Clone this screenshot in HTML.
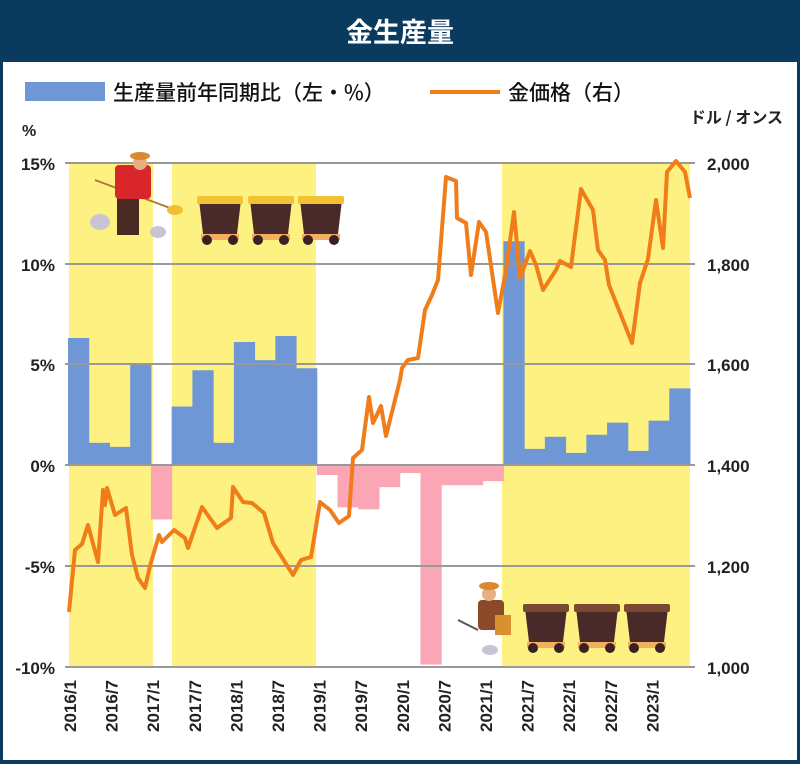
<!DOCTYPE html>
<html><head><meta charset="utf-8"><style>
body{margin:0;width:800px;height:764px;overflow:hidden;background:#fff;font-family:"Liberation Sans","Noto Sans CJK JP",sans-serif}
</style></head><body>
<svg width="800" height="764" viewBox="0 0 800 764" xmlns="http://www.w3.org/2000/svg" font-family="Liberation Sans, Noto Sans CJK JP, sans-serif">
<rect x="0" y="0" width="800" height="764" fill="#0b3a5f"/>
<rect x="3" y="62" width="794" height="698" fill="#fff"/>
<text x="400" y="42" text-anchor="middle" fill="#fff" font-size="27" font-weight="bold" font-family="Noto Sans CJK JP, sans-serif">金生産量</text>
<rect x="25" y="82" width="80" height="19" fill="#6f97d6"/>
<text x="113" y="100" font-size="21" font-weight="500" fill="#111" font-family="Noto Sans CJK JP, sans-serif">生産量前年同期比（左・%）</text>
<line x1="430" y1="92" x2="500" y2="92" stroke="#f07d1a" stroke-width="4"/>
<text x="508" y="100" font-size="21" font-weight="500" fill="#111" font-family="Noto Sans CJK JP, sans-serif">金価格（右）</text>
<text x="22" y="136" font-size="16" font-weight="bold" fill="#222">%</text>
<text x="783" y="123" text-anchor="end" font-size="16" font-weight="bold" fill="#222" font-family="Noto Sans CJK JP, sans-serif">ドル / オンス</text>
<g fill="#fdf281">
<rect x="69" y="163" width="84" height="504"/>
<rect x="172" y="163" width="144" height="504"/>
<rect x="502" y="163" width="188" height="504"/>
</g>
<g id="bars"></g>
<g stroke="#999" stroke-width="2">
<line x1="65" y1="163" x2="695" y2="163"/>
<line x1="65" y1="264" x2="695" y2="264"/>
<line x1="65" y1="364" x2="695" y2="364"/>
<line x1="65" y1="465" x2="695" y2="465"/>
<line x1="65" y1="566" x2="695" y2="566"/>
<line x1="65" y1="667" x2="695" y2="667"/>
</g>
<g font-size="17" font-weight="bold" fill="#222" text-anchor="end">
<text x="55" y="170">15%</text><text x="55" y="271">10%</text><text x="55" y="371">5%</text>
<text x="55" y="472">0%</text><text x="55" y="573">-5%</text><text x="55" y="674">-10%</text>
</g>
<g font-size="17" font-weight="bold" fill="#222">
<text x="707" y="170">2,000</text><text x="707" y="271">1,800</text><text x="707" y="371">1,600</text>
<text x="707" y="472">1,400</text><text x="707" y="573">1,200</text><text x="707" y="674">1,000</text>
</g>
<g id="xl" font-size="17" font-weight="bold" fill="#222" text-anchor="end"></g>
<polyline fill="none" stroke="#f07d1a" stroke-width="4" stroke-linejoin="round" points="69,612 75,550 82,544 88,525 98,562 103,490 105,505 107,488 115,515 126,508 132,555 138,578 145,588 150,566 159,535 162,542 174,530 185,538 188,548 202,507 217,528 231,518 233,487 243,502 252,503 264,513 273,543 293,575 301,560 311,557 320,502 330,510 339,523 349,516 353,458 362,450 369,397 373,423 381,406 386,436 400,380 402,368 408,360 418,358 425,310 432,295 438,280 446,177 456,181 457,218 466,223 471,275 479,222 486,232 498,313 506,270 514,212 520,278 530,251 536,265 543,290 556,270 560,261 571,267 581,189 593,210 598,250 605,260 609,285 632,343 640,283 648,259 656,200 663,248 667,172 676,161 685,172 690,198"/>
<g>
<ellipse cx="100" cy="222" rx="10" ry="8" fill="#c9c4d3"/><ellipse cx="158" cy="232" rx="8" ry="6" fill="#c9c4d3"/>
<line x1="95" y1="180" x2="170" y2="208" stroke="#b07a30" stroke-width="2"/>
<ellipse cx="175" cy="210" rx="8" ry="5" fill="#f0c030"/>
<rect x="117" y="195" width="22" height="40" fill="#4a2a22"/>
<rect x="115" y="165" width="36" height="34" fill="#d8262a" rx="4"/>
<circle cx="140" cy="163" r="7" fill="#e8b080"/>
<ellipse cx="140" cy="156" rx="10" ry="4" fill="#d98a30"/>
</g>
<g id="carts1"></g>
<g>
<ellipse cx="490" cy="650" rx="8" ry="5" fill="#c9c4d3"/>
<rect x="478" y="600" width="26" height="30" fill="#8a4a2a" rx="4"/>
<rect x="495" y="615" width="16" height="20" fill="#d89030"/>
<circle cx="489" cy="594" r="7" fill="#e8b080"/>
<ellipse cx="489" cy="586" rx="10" ry="4" fill="#d98a30"/>
<line x1="458" y1="620" x2="478" y2="630" stroke="#555" stroke-width="2"/>
</g>
<g id="carts2"></g>
<script>
var ns="http://www.w3.org/2000/svg";
function el(p,t,a){var e=document.createElementNS(ns,t);for(var k in a)e.setAttribute(k,a[k]);p.appendChild(e);return e;}
var v=[6.3,1.1,0.9,5.0,-2.7,2.9,4.7,1.1,6.1,5.2,6.4,4.8,-0.5,-2.1,-2.2,-1.1,-0.4,-9.9,-1.0,-1.0,-0.8,11.1,0.8,1.4,0.6,1.5,2.1,0.7,2.2,3.8];
var b=document.getElementById('bars');var w=(690-68)/30;
v.forEach(function(d,i){var x=68+i*w,h=Math.abs(d)*20.16;el(b,'rect',{x:x,y:d>0?465-h:465,width:w+0.5,height:h,fill:d>0?'#6f97d6':'#fba6b4'});});
var lab=["2016/1","2016/7","2017/1","2017/7","2018/1","2018/7","2019/1","2019/7","2020/1","2020/7","2021/1","2021/7","2022/1","2022/7","2023/1"];
var xl=document.getElementById('xl');
lab.forEach(function(s,i){var x=70+i*41.6;var t=el(xl,'text',{x:0,y:0,transform:'translate('+(x+6)+',680) rotate(-90)'});t.textContent=s;});
function cart(p,x,y,gold){var g=el(p,'g',{});
el(g,'polygon',{points:(x)+','+(y)+' '+(x+42)+','+(y)+' '+(x+38)+','+(y+34)+' '+(x+4)+','+(y+34),fill:'#4a2a28'});
el(g,'rect',{x:x-2,y:y-4,width:46,height:8,fill:gold?'#f2c230':'#7a4a30',rx:2});
el(g,'rect',{x:x+2,y:y+34,width:38,height:6,fill:'#f0b060'});
el(g,'circle',{cx:x+8,cy:y+40,r:5,fill:'#3a2020'});el(g,'circle',{cx:x+34,cy:y+40,r:5,fill:'#3a2020'});}
var c1=document.getElementById('carts1');cart(c1,199,200,true);cart(c1,250,200,true);cart(c1,300,200,true);
var c2=document.getElementById('carts2');cart(c2,525,608,false);cart(c2,576,608,false);cart(c2,626,608,false);
</script>
</svg>
</body></html>
